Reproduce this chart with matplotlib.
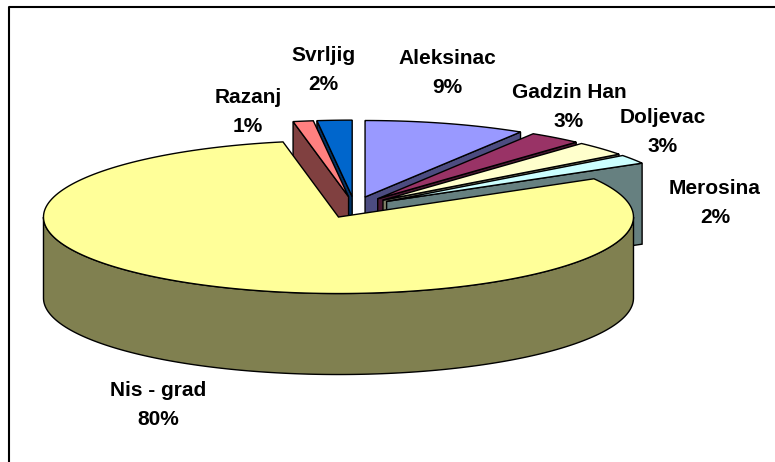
import numpy as np
import matplotlib
matplotlib.use('Agg')
from matplotlib import pyplot as plt
from matplotlib.patches import Polygon

plt.rcParams['font.family'] = ['Liberation Sans', 'DejaVu Sans']

# slices, clockwise from 12 o'clock
names = ['Aleksinac', 'Gadzin Han', 'Doljevac', 'Merosina', 'Nis - grad', 'Razanj', 'Svrljig']
values = [8.8, 2.9, 3.0, 1.9, 80.0, 1.1, 1.9]
percent_labels = [9, 3, 3, 2, 80, 1, 2]
top_colors = ['#9999FF', '#993366', '#FFFFCC', '#CCFFFF', '#FFFF99', '#FF8080', '#0066CC']
side_colors = ['#4C4C80', '#4C1933', '#808066', '#668080', '#808050', '#804040', '#003366']

# pie geometry, in pixels of the picture
cx, cy = 354.5, 207.3
rx, ry = 295, 76.5
ex, ey = 38.5, 10.7
depth = 81

label_pos = [(447, 73), (569, 107), (663, 132), (715, 203), (158, 405), (248, 112), (323, 70)]

fig = plt.figure(figsize=(7.75, 4.62), dpi=100)
ax = fig.add_axes([0, 0, 1, 1])
ax.set_xlim(0, 775)
ax.set_ylim(462, 0)
ax.axis('off')

# frame: only top and left edges show in the picture
ax.plot([8.5, 8.5, 775], [462, 6.5, 6.5], color='black', lw=1.5)

fracs = np.array(values) / sum(values) * 360
ends = np.cumsum(fracs)
starts = ends - fracs


def rim(x0, y0, a, b):
    t = np.radians(np.linspace(a, b, 200))
    return np.column_stack([x0 + rx * np.sin(t), y0 - ry * np.cos(t)])


# back slices first, the big one last so it covers the others
order = [6, 5, 0, 1, 2, 3, 4]
for i in order:
    mid = np.radians((starts[i] + ends[i]) / 2)
    x0 = cx + ex * np.sin(mid)
    y0 = cy - ey * np.cos(mid)
    edge = rim(x0, y0, starts[i], ends[i])
    apex = np.array([x0, y0])
    down = np.array([0, depth])

    if i == 4:
        # outer wall, front half only
        wall = rim(x0, y0, 90, 270)
        ax.add_patch(Polygon(np.vstack([wall, wall[::-1] + down]), fc=side_colors[i], ec='black', lw=1))
    elif i in (5, 6):
        # left cut face
        p = edge[0]
        ax.add_patch(Polygon([apex, p, p + down, apex + down], fc=side_colors[i], ec='black', lw=1))
    else:
        # right cut face
        p = edge[-1]
        ax.add_patch(Polygon([apex, p, p + down, apex + down], fc=side_colors[i], ec='black', lw=1))

    ax.add_patch(Polygon(np.vstack([apex, edge]), fc=top_colors[i], ec='black', lw=1))

for name, pct, (x, y) in zip(names, percent_labels, label_pos):
    ax.text(x, y, f'{name}\n{pct}%', ha='center', va='center', fontsize=15,
            fontweight='bold', linespacing=1.65)

plt.savefig('out.png', dpi=100)
